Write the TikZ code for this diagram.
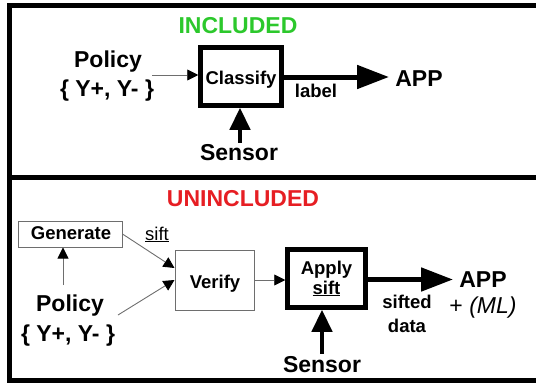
\documentclass[tikz,border=0pt]{standalone}
\usepackage{fontspec}
\setmainfont{Liberation Sans}
\usetikzlibrary{arrows.meta,calc}
\definecolor{incgreen}{RGB}{44,200,44}
\definecolor{uncred}{RGB}{230,30,35}
\definecolor{thingray}{RGB}{110,110,110}
\begin{document}
\begin{tikzpicture}[x=1pt,y=-1pt,
  big/.style={font=\fontsize{23}{27}\selectfont\bfseries, inner sep=0pt, anchor=base},
  small/.style={font=\fontsize{18.5}{22}\selectfont\bfseries, inner sep=0pt, anchor=base},
  plain/.style={font=\fontsize{18.5}{22}\selectfont, inner sep=0pt, anchor=base},
  thickbox/.style={draw=black, line width=4.5pt, inner sep=0pt},
  thinbox/.style={draw=thingray, line width=1pt, inner sep=0pt},
  thinarrow/.style={draw=thingray, line width=0.9pt, -{Triangle[length=11pt,width=11pt,color=black]}},
  fatarrow/.style={draw=black, line width=5pt, -{Triangle[length=32pt,width=23pt]}},
  sensarrow/.style={draw=black, line width=4.5pt, -{Triangle[length=22pt,width=20pt]}},
  frame/.style={draw=black, line width=5pt}
]
\useasboundingbox (0,0) rectangle (536,383);
% frames
\draw[frame] (9.5,5.5) rectangle (570,380);
\draw[frame] (9.5,177.5) -- (570,177.5);

% ---------- INCLUDED ----------
\node[big, text=incgreen] (inc) at (238,33) {INCLUDED};
\node[big] (pol1) at (108,67) {Policy};
\node[big] (set1) at (107,96.5) {\{ Y+, Y- \}};
\node[thickbox, minimum width=81pt, minimum height=58pt] (cls) at (241,76.5) {};
\node[small] (clst) at (241,84.5) {Classify};
\node[small] (lab) at (316,97) {label};
\node[big] (app1) at (419,86) {APP};
\node[big] (sen1) at (239,160) {Sensor};
\coordinate (p1) at (152,75);
\coordinate (t1) at (389,77);
\draw[thinarrow] (p1) -- (p1 -| cls.west);
\draw[fatarrow] (cls.east |- t1) -- (t1);
\draw[sensarrow] (sen1.north) ++(1,-1) coordinate (s1) -- (s1 |- cls.south);

% ---------- UNINCLUDED ----------
\node[big, text=uncred] (unc) at (243,206.5) {UNINCLUDED};
\node[thinbox, minimum width=104pt, minimum height=26pt] (gen) at (70,234) {};
\node[small] (gent) at (71,239) {Generate};
\node[plain] (sift1) at (157,240) {\underline{sift}};
\node[thinbox, minimum width=79pt, minimum height=60pt] (ver) at (214.5,280) {};
\node[small] (vert) at (215,288) {Verify};
\node[thickbox, minimum width=78pt, minimum height=58pt] (apl) at (326.5,278.5) {};
\node[small] (aplt) at (326.5,274) {Apply};
\node[small] (sift2) at (326.5,294) {\underline{sift}};
\node[big] (pol2) at (70,311) {Policy};
\node[big] (set2) at (68,341) {\{ Y+, Y- \}};
\node[small] (sfd) at (407,308) {sifted};
\node[small] (dat) at (407,332) {data};
\node[big] (app2) at (483,287) {APP};
\node[font=\fontsize{23}{27}\selectfont, inner sep=0pt, anchor=base] (ml) at (483,313) {+ \textit{(ML)}};
\node[big] (sen2) at (322,372) {Sensor};

\coordinate (g0) at (63,285);
\coordinate (p2) at (118,315);
\coordinate (t2) at (453,279.5);
\draw[thinarrow] (g0) -- (g0 |- gen.south);
\draw[thinarrow] (gen.east) -- ([yshift=12pt]ver.west);
\draw[thinarrow] (p2) -- (ver.west);
\draw[thinarrow] (ver.east) -- (ver.east -| apl.west);
\draw[fatarrow] (apl.east |- t2) -- (t2);
\draw[sensarrow] (sen2.north) ++(0,-2) coordinate (s2) -- (s2 |- apl.south);
\end{tikzpicture}
\end{document}
